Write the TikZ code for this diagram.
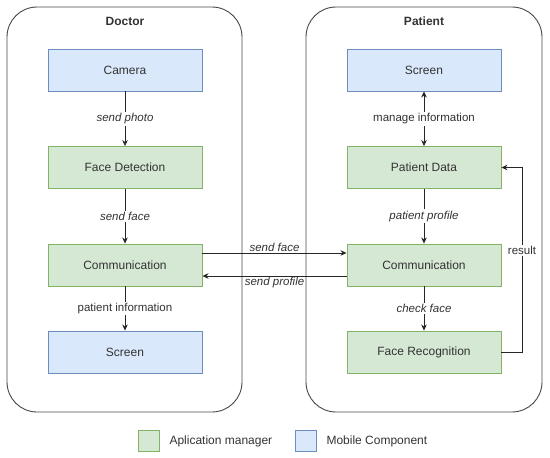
\documentclass[tikz,border=0pt]{standalone}
\usepackage{fontspec}
\setmainfont{Liberation Sans}
\usetikzlibrary{arrows.meta}
\definecolor{gfill}{HTML}{D5E8D4}
\definecolor{gline}{HTML}{82B366}
\definecolor{bfill}{HTML}{DAE8FC}
\definecolor{bline}{HTML}{6C8EBF}
\definecolor{txt}{HTML}{333333}
\begin{document}
\begin{tikzpicture}[x=1pt,y=-1pt,
  font=\fontsize{12}{14}\selectfont, text=txt,
  container/.style={draw=txt!90, line width=0.9pt, rounded corners=30pt},
  gbox/.style={draw=gline, fill=gfill, line width=0.9pt, minimum width=154pt, minimum height=42pt, inner sep=0pt},
  bbox/.style={draw=bline, fill=bfill, line width=0.9pt, minimum width=154pt, minimum height=42pt, inner sep=0pt},
  conn/.style={draw=black!85, line width=0.8pt, -{Stealth[length=6pt,width=5.5pt]}},
  lab/.style={font=\fontsize{11.5}{13}\selectfont\itshape, fill=white, inner sep=1.5pt},
  labu/.style={font=\fontsize{11.5}{13}\selectfont, fill=white, inner sep=1.5pt},
  legbox/.style={line width=0.9pt, minimum width=21pt, minimum height=21pt, inner sep=0pt}]
\useasboundingbox (0,0) rectangle (550,458);
\draw[container] (7,7) rectangle (242,412);
\draw[container] (306,7) rectangle (542,412);
\node[font=\fontsize{12}{14}\selectfont\bfseries] (tdoc) at (125,21) {Doctor};
\node[font=\fontsize{12}{14}\selectfont\bfseries] (tpat) at (424,21) {Patient};
% Doctor
\node[bbox] (cam) at (125,70) {Camera};
\node[gbox] (fd) at (125,167.5) {Face Detection};
\node[gbox] (dcom) at (125,265) {Communication};
\node[bbox] (dscr) at (125,352) {Screen};
% Patient
\node[bbox] (pscr) at (424,70) {Screen};
\node[gbox] (pd) at (424,167.5) {Patient Data};
\node[gbox] (pcom) at (424,265) {Communication};
\node[gbox] (fr) at (424,352) {Face Recognition};
% connectors
\draw[conn] (cam) -- node[lab] {send photo} (fd);
\draw[conn] (fd) -- node[lab] {send face} (dcom);
\draw[conn] (dcom) -- node[labu] {patient information} (dscr);
\draw[conn,{Stealth[length=6pt,width=5.5pt]}-{Stealth[length=6pt,width=5.5pt]}] (pscr) -- node[labu] {manage information} (pd);
\draw[conn] (pd) -- node[lab] {patient profile} (pcom);
\draw[conn] (pcom) -- node[lab] {check face} (fr);
\draw[conn] (dcom.east |- 0,253) -- node[lab, fill=none, above, pos=0.5, yshift=-1pt] {send face} (pcom.west |- 0,253);
\draw[conn] (pcom.west |- 0,276) -- node[lab, fill=none, below, pos=0.5, yshift=1pt] {send profile} (dcom.east |- 0,276);
\coordinate (rc1) at (522,352);
\coordinate (rc2) at (522,167.5);
\draw[conn] (fr.east) -- (rc1) -- node[labu, pos=0.55] {result} (rc2) -- (pd.east);
% legend
\node[legbox, draw=gline, fill=gfill] (lg) at (149,441) {};
\node[anchor=west] (lgt) at (166,441) {Aplication manager};
\node[legbox, draw=bline, fill=bfill] (lb) at (306,441) {};
\node[anchor=west] (lbt) at (323,441) {Mobile Component};
\end{tikzpicture}
\end{document}
